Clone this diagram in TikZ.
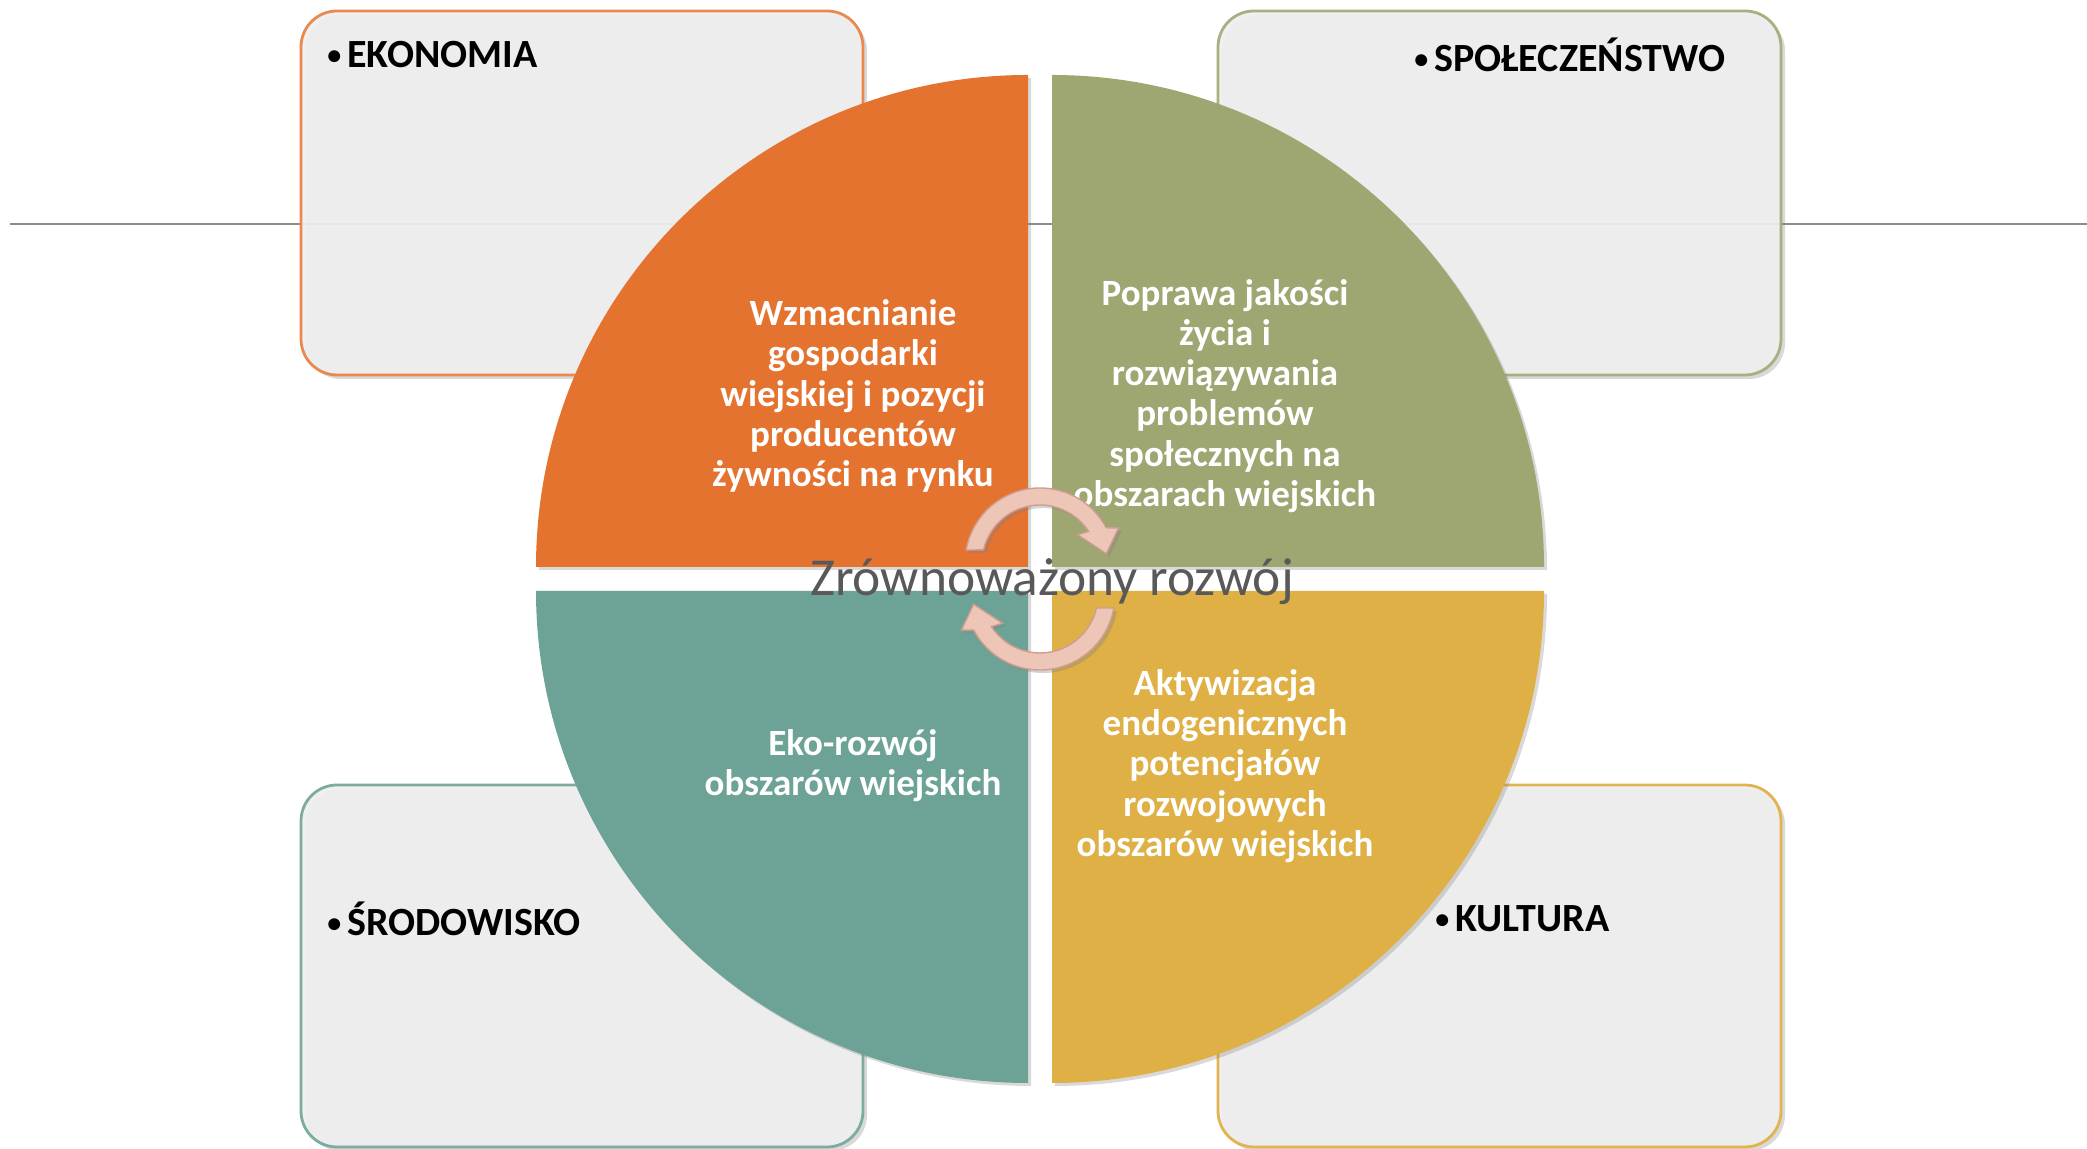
\documentclass[tikz,border=0pt]{standalone}
\usepackage{fontspec}
\setmainfont{Carlito}
\usetikzlibrary{shadows}

\definecolor{econorange}{HTML}{E57330}
\definecolor{socolive}{HTML}{9EA672}
\definecolor{envteal}{HTML}{6DA396}
\definecolor{cultgold}{HTML}{DFB046}
\definecolor{boxgray}{HTML}{EFEFEF}
\definecolor{arrowpink}{HTML}{EEC6B8}
\definecolor{arrowedge}{HTML}{CF9E90}
\definecolor{centregray}{HTML}{595959}
\definecolor{rulegray}{HTML}{8C8C8C}

\newcommand{\pillardot}{\raisebox{1.5pt}{\fontsize{14}{14}\selectfont •}\hspace{3pt}}

\tikzset{
  pillarbox/.style={rounded corners=18pt, fill=boxgray, fill opacity=.93, line width=1.4pt,
    drop shadow={shadow xshift=2pt, shadow yshift=-2pt, opacity=.3}},
  quarter/.style={drop shadow={shadow xshift=1.5pt, shadow yshift=-1.5pt, opacity=.3}},
  boxlabel/.style={inner sep=0pt, anchor=west, font=\bfseries\fontsize{20}{23}\selectfont},
  goaltext/.style={align=center, text=white, font=\bfseries\fontsize{18.5}{20.15}\selectfont},
  cyclearrow/.style={fill=arrowpink, draw=arrowedge, line width=.7pt,
    drop shadow={shadow xshift=1.5pt, shadow yshift=-1.5pt, opacity=.35}},
}

\begin{document}
\begin{tikzpicture}[x=0.5pt, y=0.5pt]
  \useasboundingbox (0,0) rectangle (2087,1149);

  % line behind everything
  \draw[rulegray, line width=1pt] (10,925) -- (2087,925);

  % the four pillars
  \draw[pillarbox, draw=econorange!85] (301,774) rectangle (863,1138);
  \draw[pillarbox, draw=socolive!90] (1218,774) rectangle (1781,1138);
  \draw[pillarbox, draw=envteal!90] (301,2) rectangle (863,364);
  \draw[pillarbox, draw=cultgold!95] (1218,2) rectangle (1781,364);

  \node[boxlabel] (econ) at (327,1094) {\pillardot EKONOMIA};
  \node[boxlabel] (soc) at (1414,1094) {\pillardot SPOŁECZEŃSTWO};
  \node[boxlabel] (env) at (327,230) {\pillardot ŚRODOWISKO};
  \node[boxlabel] (cult) at (1435,230) {\pillardot KULTURA};

  % circle in four quarters
  \fill[quarter, econorange] (1028,582) -- (536,582) arc[start angle=180, end angle=90, radius=492] -- cycle;
  \fill[quarter, socolive] (1052,582) -- (1052,1074) arc[start angle=90, end angle=0, radius=492] -- cycle;
  \fill[quarter, envteal] (1028,558) -- (536,558) arc[start angle=180, end angle=270, radius=492] -- cycle;
  \fill[quarter, cultgold] (1052,558) -- (1544,558) arc[start angle=0, end angle=-90, radius=492] -- cycle;

  \node[goaltext] (econgoal) at (853,753) {Wzmacnianie\\gospodarki\\wiejskiej i pozycji\\producentów\\żywności na rynku};
  \node[goaltext] (socgoal) at (1225,753) {Poprawa jakości\\życia i\\rozwiązywania\\problemów\\społecznych na\\obszarach wiejskich};
  \node[goaltext] (envgoal) at (853,383) {Eko-rozwój\\obszarów wiejskich};
  \node[goaltext] (cultgoal) at (1225,383) {Aktywizacja\\endogenicznych\\potencjałów\\rozwojowych\\obszarów wiejskich};

  % the two turning arrows
  \foreach \cy/\turn in {586/0, 554/180} {
    \begin{scope}[shift={(1040,\cy)}, rotate=\turn]
      \draw[cyclearrow] (170:75) arc[start angle=170, end angle=28, radius=75]
        -- (24:86) -- (8:67) -- (37:47) -- (33:58)
        arc[start angle=33, end angle=167, radius=58] -- cycle;
    \end{scope}
  }

  \node[text=centregray, font=\fontsize{26.7}{30}\selectfont] (centre) at (1052,567) {Zrównoważony rozwój};
\end{tikzpicture}
\end{document}
